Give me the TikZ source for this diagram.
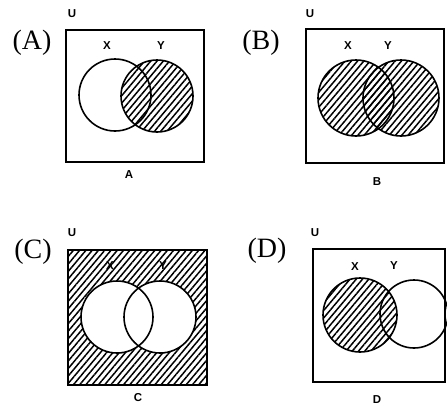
\documentclass[tikz,border=0pt]{standalone}
\usepackage{fontspec}
\setmainfont{Liberation Serif}
\setsansfont{Liberation Sans}
\usetikzlibrary{patterns.meta}
\tikzset{
  ubox/.style={draw, line width=1.8pt},
  setc/.style={draw, line width=1.6pt},
  hatch/.style={pattern={Lines[angle=50,distance=4.8pt,line width=1.5pt]}},
  lab/.style={font=\sffamily\bfseries\fontsize{11.5}{13}\selectfont, inner sep=0pt},
  opt/.style={font=\fontsize{28}{30}\selectfont, inner sep=0pt},
}
\begin{document}
\begin{tikzpicture}[x=1pt,y=-1pt]
\useasboundingbox (0,0) rectangle (447,405);
% ---------- A ----------
\node[opt] (oA) at (32,43) {(A)};
\node[lab] (uA) at (72,14) {U};
\draw[ubox] (66,30) rectangle (204,162);
\fill[hatch] (157,96) circle[radius=36pt];
\draw[setc] (115,95) circle[radius=36pt];
\draw[setc] (157,96) circle[radius=36pt];
\node[lab] (xA) at (107,46) {X};
\node[lab] (yA) at (161,46) {Y};
\node[lab] (cA) at (129,175) {A};
% ---------- B ----------
\node[opt] (oB) at (261,43) {(B)};
\node[lab] (uB) at (310,14) {U};
\draw[ubox] (306,29) rectangle (444,163);
\fill[hatch] (356,98) circle[radius=38pt];
\fill[hatch] (401,98) circle[radius=38pt];
\draw[setc] (356,98) circle[radius=38pt];
\draw[setc] (401,98) circle[radius=38pt];
\node[lab] (xB) at (348,46) {X};
\node[lab] (yB) at (388,46) {Y};
\node[lab] (cB) at (377,182) {B};
% ---------- C ----------
\node[opt] (oC) at (33,252) {(C)};
\node[lab] (uC) at (72,233) {U};
\fill[hatch] (68,250) rectangle (207,385);
\fill[white] (117,317) circle[radius=36pt];
\fill[white] (160,317) circle[radius=36pt];
\draw[ubox] (68,250) rectangle (207,385);
\draw[setc] (117,317) circle[radius=36pt];
\draw[setc] (160,317) circle[radius=36pt];
\node[lab] (xC) at (110,266) {X};
\node[lab] (yC) at (163,266) {Y};
\node[lab] (cC) at (138,398) {C};
% ---------- D ----------
\node[opt] (oD) at (267,251) {(D)};
\node[lab] (uD) at (315,233) {U};
\draw[ubox] (313,249) rectangle (445,382);
\fill[hatch] (360,315) circle[radius=37pt];
\draw[setc] (360,315) circle[radius=37pt];
\draw[setc] (414,314) circle[radius=34pt];
\node[lab] (xD) at (355,267) {X};
\node[lab] (yD) at (394,266) {Y};
\node[lab] (cD) at (377,400) {D};
\end{tikzpicture}
\end{document}
